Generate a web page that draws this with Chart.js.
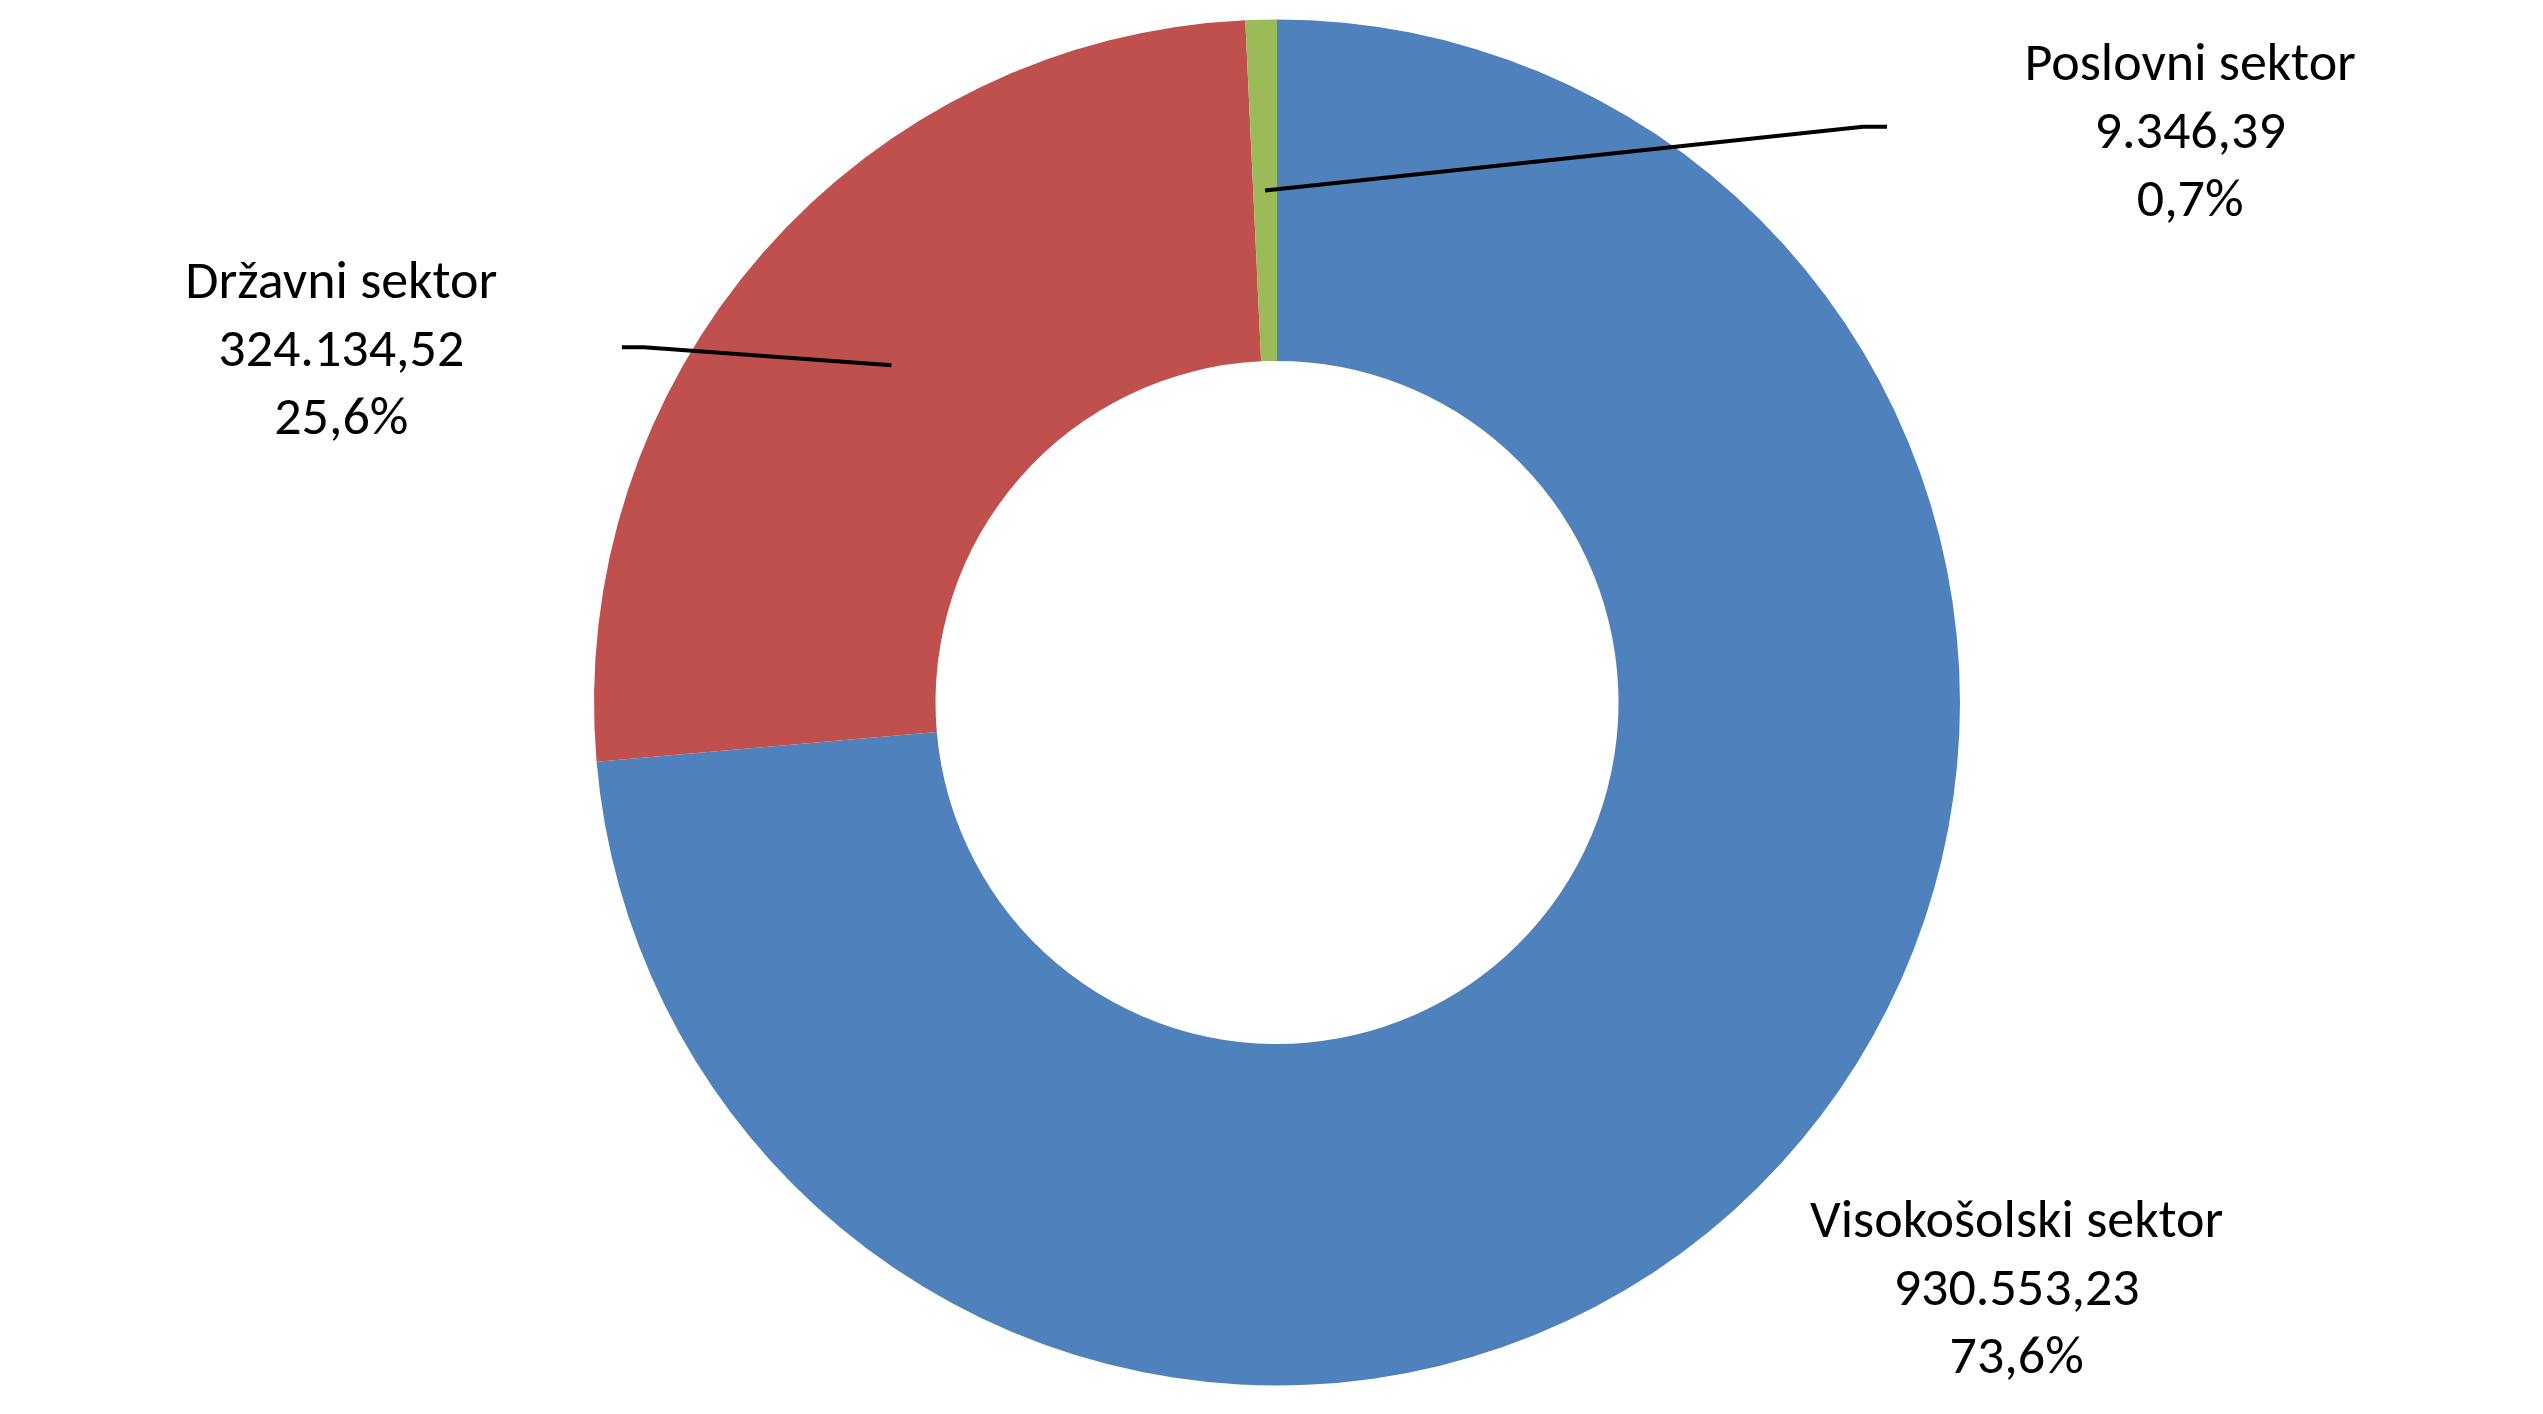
<!DOCTYPE html>
<html>
<head>
<meta charset="utf-8">
<script src="https://cdn.jsdelivr.net/npm/chart.js@4/dist/chart.umd.min.js"></script>
<style>
  html, body { margin: 0; padding: 0; background: #fff; }
  #wrap { width: 2543px; height: 1414px; }
</style>
</head>
<body>
<div id="wrap"><canvas id="donut" width="2543" height="1414"></canvas></div>
<script>
// sektorji in vrednosti (tisoč EUR)
var sectors = ['Visokošolski sektor', 'Državni sektor', 'Poslovni sektor'];
var amounts = [930553.23, 324134.52, 9346.39];
var amountLabels = ['930.553,23', '324.134,52', '9.346,39'];
var shareLabels = ['73,6%', '25,6%', '0,7%'];
var sliceColors = ['#4F81BD', '#C0504D', '#9BBB59'];

// label placement, in units of the outer radius from the chart centre
var labelPos = [[1.083, 0.862], [-1.370, -0.512], [1.337, -0.831]];
// leader line elbow (null = no leader line)
var leaderElbow = [null, [-0.927, -0.520], [0.858, -0.843]];
var leaderTail = [0, -22, 24];   // short horizontal piece towards the label

var labelPlugin = {
    id: 'sectorLabels',
    afterDraw: function(chart) {
        var ctx = chart.ctx;
        var meta = chart.getDatasetMeta(0);
        var cx = (chart.chartArea.left + chart.chartArea.right) / 2;
        var cy = (chart.chartArea.top + chart.chartArea.bottom) / 2;
        var R = meta.data[0].outerRadius;
        ctx.save();
        for (let i = 0; i < meta.data.length; i++) {
            let arc = meta.data[i];
            // leader line from the middle of the slice
            if (leaderElbow[i]) {
                let p = arc.getCenterPoint();
                let ex = cx + leaderElbow[i][0] * R, ey = cy + leaderElbow[i][1] * R;
                ctx.beginPath();
                ctx.strokeStyle = '#000';
                ctx.lineWidth = 4;
                ctx.lineJoin = 'round';
                ctx.moveTo(p.x, p.y);
                ctx.lineTo(ex, ey);
                ctx.lineTo(ex + leaderTail[i], ey);
                ctx.stroke();
            }
            // three line label
            let lx = cx + labelPos[i][0] * R, ly = cy + labelPos[i][1] * R;
            ctx.fillStyle = '#000';
            ctx.font = '300 54px Carlito, "Lato Light", Lato, sans-serif';
            ctx.textAlign = 'center';
            ctx.textBaseline = 'middle';
            let lines = [sectors[i], amountLabels[i], shareLabels[i]];
            for (let k = 0; k < lines.length; k++) {
                ctx.fillText(lines[k], lx, ly + (k - 1) * 68);
            }
        }
        ctx.restore();
    }
};

var donutPlot = new Chart(document.getElementById('donut'), {
    type: 'doughnut',
    data: {
        labels: sectors,
        datasets: [{
            data: amounts,
            backgroundColor: sliceColors,
            borderWidth: 0
        }]
    },
    options: {
        responsive: false,
        devicePixelRatio: 1,
        animation: false,
        cutout: '50%',
        layout: { padding: { top: 19.5, bottom: 28.5, left: 594, right: 583 } },
        plugins: {
            legend: { display: false },
            tooltip: { enabled: false }
        }
    },
    plugins: [labelPlugin]
});
</script>
</body>
</html>
